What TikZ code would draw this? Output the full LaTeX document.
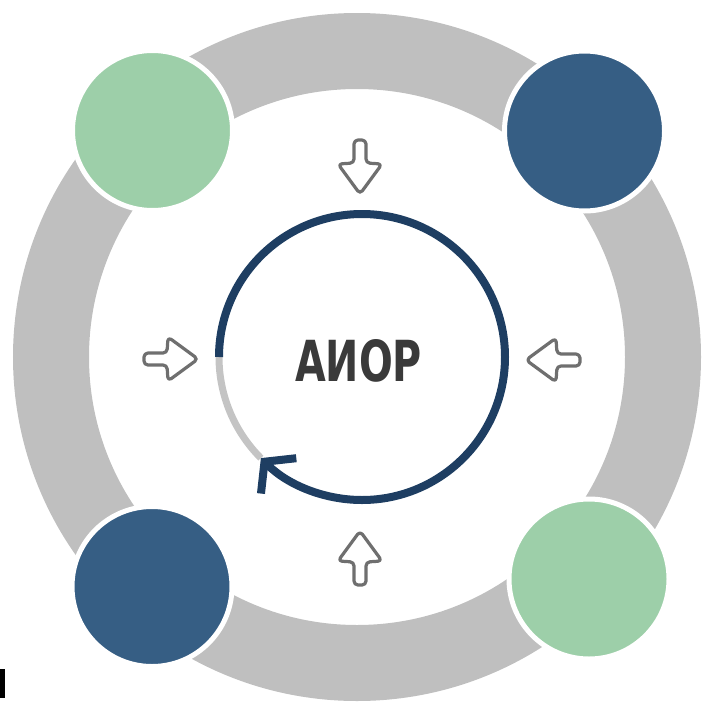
\documentclass[tikz,border=0pt]{standalone}
\usepackage{fontspec}
\newfontfamily\tfont{DejaVu Sans}
\usetikzlibrary{arrows.meta}
\definecolor{ringgray}{HTML}{BFBFBF}
\definecolor{mint}{HTML}{9DCFA9}
\definecolor{steel}{HTML}{365E84}
\definecolor{navy}{HTML}{1E3E62}
\definecolor{arcgray}{HTML}{C4C4C4}
\definecolor{txt}{HTML}{3A3A3A}
\definecolor{arrgray}{HTML}{6F6F6F}
\begin{document}
\begin{tikzpicture}[x=1pt,y=-1pt,
  bubble/.style={circle, minimum size=160pt, inner sep=0pt, draw=white, line width=5pt},
  hollowarrow/.style={draw=arrgray, fill=white, line width=3.2pt, rounded corners=4pt, line join=round},
  hollow/.pic={\path[hollowarrow] (1,-6) -- (24,-6) -- (25,-22) -- (55,0) -- (25,22) -- (24,6) -- (1,6) -- cycle;}]
\useasboundingbox (0,0) rectangle (702,707);
\node[circle, draw=ringgray, line width=76pt, minimum size=612pt, inner sep=0pt] (ring) at (357,357) {};
\node[bubble, fill=mint] (tl) at (152.5,130.5) {};
\node[bubble, fill=steel] (tr) at (584.5,131) {};
\node[bubble, fill=steel] (bl) at (152,586.5) {};
\node[bubble, fill=mint] (br) at (589,579) {};
\node[circle, minimum size=286pt, inner sep=0pt] (core) at (362,357) {};
\draw[arcgray, line width=7pt] (core.center) ++(180:143) arc[start angle=180, end angle=135, radius=143];
\draw[navy, line width=8pt, -{Straight Barb[length=20pt,width=50pt,line width=8pt]}] (core.center) ++(-180:143) arc[start angle=-180, end angle=135, radius=143];
\node[text=txt, inner sep=0pt] (label) at (358.5,361) {\resizebox{127pt}{42pt}{\tfont\bfseries АИОР}};
\pic[rotate=-90] at (360,139) {hollow};
\pic[rotate=90] at (360,586) {hollow};
\pic[rotate=0] at (143,359) {hollow};
\pic[rotate=180] at (581,360) {hollow};
\fill[black] (0,669) rectangle (5,698);
\end{tikzpicture}
\end{document}
